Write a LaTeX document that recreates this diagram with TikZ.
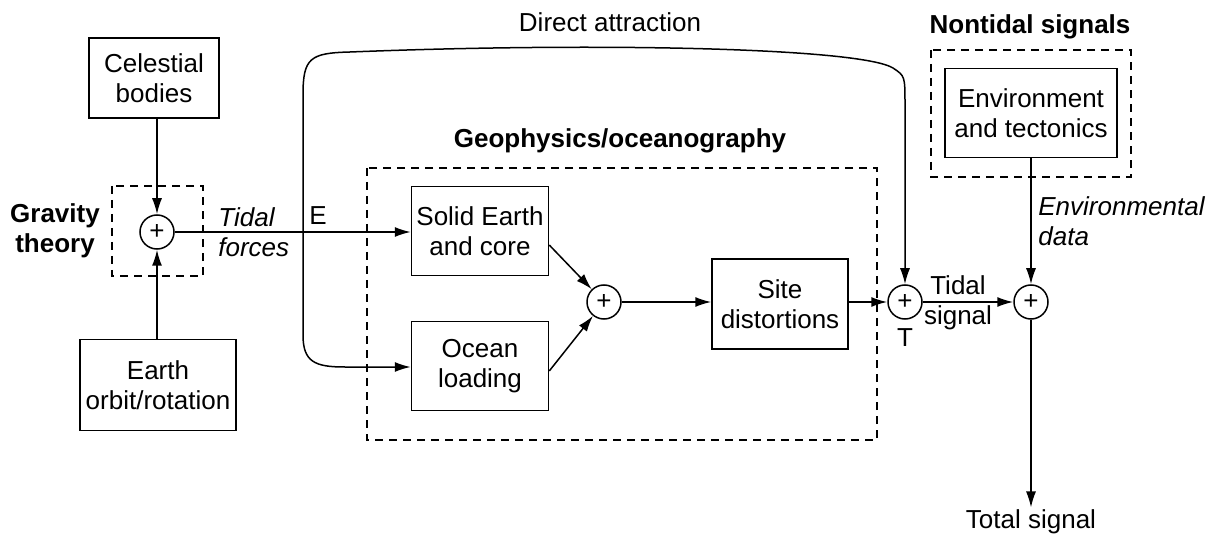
\documentclass[tikz,border=0pt]{standalone}
\usepackage{fontspec}
\setmainfont{Liberation Sans}
\usetikzlibrary{arrows.meta, positioning, calc}

\begin{document}
\begin{tikzpicture}[x=0.5pt, y=-0.5pt,
  blk/.style={draw, line width=0.75pt, align=center, inner sep=2pt, font=\fontsize{13}{15}\selectfont},
  sumnode/.style={draw, circle, line width=0.75pt, minimum size=17pt, inner sep=0pt, font=\fontsize{13}{15}\selectfont},
  grp/.style={draw, dash pattern=on 4pt off 3pt, line width=0.7pt},
  lbl/.style={font=\fontsize{13}{15}\selectfont, align=center, inner sep=1pt},
  sig/.style={-{Latex[length=8pt, width=5pt]}, line width=0.75pt}
]
  \useasboundingbox (0,0) rectangle (1217,535);

  % Gravity theory
  \node[blk, minimum width=65pt, minimum height=40pt] (cel) at (154,78) {Celestial\\bodies};
  \node[blk, minimum width=78pt, minimum height=45.5pt] (orb) at (158,385) {Earth\\orbit/rotation};
  \node[sumnode] (sum1) at (157,232) {+};
  \draw[grp] (112,186) rectangle (203,276);
  \node[lbl, font=\fontsize{13}{15}\selectfont\bfseries] (grav) at (55,231) {Gravity\\theory};
  \node[lbl, font=\fontsize{13}{15}\selectfont\itshape, align=left, anchor=west] (tf) at (216,232) {Tidal\\forces};
  \node[lbl] (elbl) at (318,216) {E};

  % Geophysics/oceanography
  \node[blk, minimum width=68.5pt, minimum height=44.5pt] (solid) at (480,231) {Solid Earth\\and core};
  \node[blk, minimum width=68.5pt, minimum height=44.5pt] (ocean) at (480,366) {Ocean\\loading};
  \node[sumnode] (sum2) at (604,302) {+};
  \node[blk, minimum width=68pt, minimum height=45pt] (site) at (780,304) {Site\\distortions};
  \draw[grp] (367,168) rectangle (877,440);
  \node[lbl, font=\fontsize{13}{15}\selectfont\bfseries] (geo) at (620,141) {Geophysics/oceanography};
  \node[lbl] (dir) at (610,22) {Direct attraction};

  % Tidal signal
  \node[sumnode] (sumT) at (905,302) {+};
  \node[lbl] (tlbl) at (905,338) {T};
  \node[lbl] (tsig) at (958,303) {Tidal\\signal};

  % Nontidal signals
  \node[blk, minimum width=86pt, minimum height=44.5pt] (env) at (1031,113) {Environment\\and tectonics};
  \draw[grp] (931,50) rectangle (1131,177);
  \node[lbl, font=\fontsize{13}{15}\selectfont\bfseries] (nts) at (1030,27) {Nontidal signals};
  \node[lbl, font=\fontsize{13}{15}\selectfont\itshape, align=left, anchor=west] (envd) at (1036,221) {Environmental\\data};
  \node[sumnode] (sumF) at (1031,302) {+};
  \node[lbl] (tot) at (1031,522) {Total signal};

  % connectors
  \coordinate (split) at (303,232);
  \draw[sig] (cel.south -| sum1) -- (sum1.north);
  \draw[sig] (orb.north -| sum1) -- (sum1.south);
  \draw[sig] (sum1.east) -- (sum1.east -| solid.west);
  \draw[sig] (split) -- (303,95) .. controls (303,58) and (310,53) .. (350,52)
    .. controls (600,42) and (860,48) .. (893,68) .. controls (905,76) .. (905,105) -- (sumT.north);
  \draw[sig] (split) -- (303,335) .. controls (303,362) and (315,367) .. (345,367) -- (ocean.west |- 0,367);
  \draw[sig] ($(solid.east)+(0,14)$) -- (sum2);
  \draw[sig] ($(ocean.east)+(0,5)$) -- (sum2);
  \draw[sig] (sum2.east) -- (sum2.east -| site.west);
  \draw[sig] (site.east |- sumT) -- (sumT.west);
  \draw[sig] (sumT.east) -- (sumF.west);
  \draw[sig] (env.south) -- (sumF.north);
  \draw[sig] (sumF.south) -- (tot.north);
\end{tikzpicture}
\end{document}
